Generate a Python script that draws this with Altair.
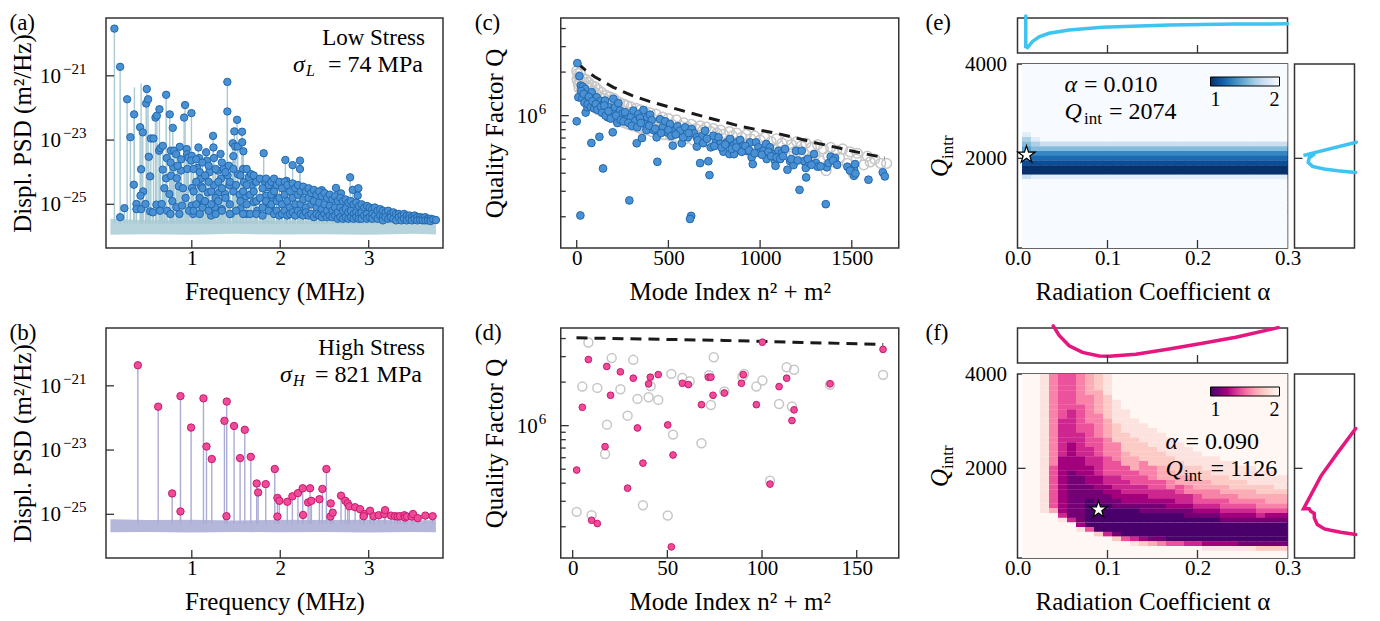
import math
import altair as alt
import pandas as pd

FONT = "Liberation Serif"
SPINE = "#333333"
TICK = 8
MINOR = 5

# ---------------- (a) low stress spectrum: (frequency MHz, log10 PSD m^2/Hz) ----------------
a_peaks = [
    (0.125, -19.53), (0.19, -20.72), (0.269, -21.73), (0.19, -25.40), (0.238, -25.12),
    (0.306, -22.91), (0.348, -22.2), (0.345, -24.39), (0.374, -24.99), (0.374, -25.15),
    (0.416, -22.6), (0.427, -23.91), (0.446, -22.76), (0.45, -24.6), (0.42, -24.73),
    (0.427, -25.15), (0.476, -24.99), (0.491, -21.41), (0.484, -21.86), (0.506, -21.73),
    (0.514, -23.52), (0.529, -24.13), (0.529, -25.22), (0.537, -22.95), (0.566, -22.95),
    (0.589, -22.3), (0.605, -22.24), (0.634, -22.04), (0.6, -25.01), (0.63, -23.33),
    (0.645, -23.25), (0.672, -23.18), (0.672, -23.92), (0.66, -24.99), (0.71, -21.59),
    (0.717, -23.56), (0.71, -24.19), (0.72, -25.2), (0.751, -22.2), (0.747, -24.68),
    (0.763, -23.33), (0.766, -24.11), (0.758, -25.3), (0.785, -22.62), (0.792, -23.85),
    (0.80, -23.33), (0.826, -25.09), (0.83, -24.19), (0.853, -24.44), (0.864, -23.21),
    (0.823, -23.44), (0.879, -23.95), (0.89, -25.04), (0.913, -22.3), (0.924, -21.91),
    (0.943, -23.28), (0.947, -23.44), (0.962, -23.54), (0.996, -22.16), (1.0, -23.49),
    (0.993, -23.64), (1.003, -24.49), (1.0, -25.04), (1.015, -25.3), (1.06, -23.87),
    (1.075, -23.23), (1.083, -23.56), (1.105, -24.44), (1.105, -24.19), (1.124, -25.09),
    (1.135, -24.93), (1.162, -23.38), (1.17, -23.64), (1.18, -24.63), (1.2, -24.0),
    (1.218, -25.35), (1.24, -22.87), (1.245, -23.23), (1.25, -23.56), (1.25, -24.4),
    (1.26, -25.09), (1.294, -23.95), (1.31, -24.63), (1.325, -23.43), (1.33, -24.2),
    (1.34, -25.15), (1.36, -23.9), (1.375, -24.68), (1.402, -21.19), (1.402, -22.11),
    (1.405, -24.1), (1.42, -23.8), (1.425, -24.4), (1.44, -25.3), (1.463, -23.1),
    (1.47, -23.5), (1.481, -22.73), (1.49, -23.2), (1.512, -22.37), (1.52, -23.2),
    (1.52, -24.06), (1.54, -24.7), (1.55, -25.15), (1.568, -22.74), (1.57, -23.07),
    (1.583, -23.35), (1.58, -23.9), (1.59, -24.31), (1.61, -24.75), (1.62, -25.3),
    (1.645, -24.15), (1.67, -24.06), (1.68, -24.4), (1.7, -24.93), (1.72, -24.3),
    (1.74, -25.2), (1.813, -23.41), (1.82, -24.27), (1.84, -24.73), (1.86, -24.46),
    (1.88, -25.09), (1.92, -24.41), (1.92, -24.82), (2.058, -23.62), (2.07, -24.27),
    (2.14, -23.78), (2.223, -23.64), (2.223, -23.9), (2.246, -24.47), (2.47, -24.56),
    (2.63, -24.49), (2.687, -24.66), (2.79, -24.16), (2.82, -24.55), (2.883, -24.5),
    (2.876, -24.73), (0.56, -25.25), (0.64, -25.2), (0.69, -24.5), (0.78, -24.9),
    (0.86, -25.3), (0.93, -24.8), (0.97, -25.2), (0.9, -24.5), (0.95, -23.9),
    (0.88, -23.6), (0.84, -23.8), (0.76, -23.7),
]
# dense cloud of higher-order peaks: frequency -> levels of the peaks seen there
a_cloud = {
    1.02: [-23.9, -24.6, -25.2], 1.05: [-23.6, -24.3, -25.0], 1.09: [-24.0, -24.8, -25.3],
    1.12: [-23.7, -24.5, -25.1], 1.15: [-24.1, -24.9], 1.19: [-23.8, -24.3, -25.2],
    1.22: [-24.6, -25.0], 1.27: [-23.9, -24.8, -25.3], 1.30: [-24.3, -24.9],
    1.34: [-23.7, -24.5, -25.2], 1.38: [-24.0, -24.8], 1.43: [-24.3, -25.0, -25.3],
    1.47: [-23.9, -24.6], 1.50: [-24.4, -25.2], 1.55: [-24.1, -24.9], 1.58: [-24.6, -25.3],
    1.62: [-23.9, -24.4, -25.0], 1.66: [-24.7, -25.3], 1.70: [-24.1, -24.6],
    1.73: [-24.3, -24.9, -25.3], 1.77: [-24.2, -24.8], 1.80: [-24.5, -25.1, -25.35],
    1.84: [-24.2, -24.9], 1.87: [-24.4, -25.2], 1.90: [-24.3, -24.7, -25.0],
    1.93: [-24.2, -24.6, -25.3], 1.96: [-24.4, -24.9, -25.2], 1.99: [-24.3, -24.8, -25.35],
    2.02: [-24.5, -25.0, -25.3], 2.05: [-24.3, -24.7, -25.2], 2.08: [-24.4, -24.9, -25.35],
    2.11: [-24.6, -25.1, -25.3], 2.14: [-24.35, -24.8, -25.25], 2.17: [-24.5, -25.0, -25.35],
    2.20: [-24.4, -24.7, -25.2], 2.23: [-24.6, -25.0, -25.3], 2.26: [-24.45, -24.85, -25.35],
    2.29: [-24.6, -25.1, -25.25], 2.32: [-24.5, -24.8, -25.35], 2.35: [-24.65, -25.0, -25.3],
    2.38: [-24.55, -24.9, -25.4], 2.41: [-24.7, -25.1, -25.3], 2.44: [-24.6, -24.95, -25.35],
    2.47: [-24.75, -25.15, -25.4], 2.50: [-24.65, -25.0, -25.3], 2.53: [-24.8, -25.2, -25.4],
    2.56: [-24.7, -25.05, -25.35], 2.59: [-24.85, -25.2, -25.4], 2.62: [-24.75, -25.1, -25.35],
    2.65: [-24.9, -25.25, -25.45], 2.68: [-24.8, -25.1, -25.4], 2.71: [-24.9, -25.2, -25.45],
    2.74: [-24.85, -25.15, -25.4], 2.77: [-24.95, -25.25, -25.45], 2.80: [-24.9, -25.2, -25.4],
    2.83: [-25.0, -25.3, -25.45], 2.86: [-24.95, -25.25, -25.4], 2.89: [-25.05, -25.3, -25.45],
    2.92: [-25.0, -25.25, -25.45], 2.95: [-25.1, -25.35], 2.98: [-25.05, -25.3, -25.45],
    3.01: [-25.1, -25.4], 3.04: [-25.15, -25.3, -25.45], 3.07: [-25.1, -25.35],
    3.10: [-25.2, -25.45], 3.13: [-25.15, -25.35], 3.16: [-25.2, -25.4, -25.5],
    3.19: [-25.25, -25.4], 3.22: [-25.2, -25.45], 3.25: [-25.3, -25.4], 3.28: [-25.25, -25.45],
    3.31: [-25.3, -25.5], 3.34: [-25.3, -25.4], 3.37: [-25.35, -25.5], 3.40: [-25.3, -25.45],
    3.43: [-25.35, -25.5], 3.46: [-25.35, -25.45], 3.49: [-25.4, -25.5], 3.52: [-25.35, -25.45],
    3.55: [-25.4, -25.5], 3.58: [-25.4, -25.48], 3.61: [-25.42, -25.5], 3.64: [-25.4, -25.5],
    3.67: [-25.45, -25.5], 3.70: [-25.45, -25.52], 3.73: [-25.47], 3.76: [-25.49],
}
a_bare_stems = [(0.351, -21.36), (0.427, -21.24)]
a_noise_f = [0.08, 0.5, 1.0, 1.5, 2.0, 2.5, 3.0, 3.5, 3.76]
a_noise_lo = [-25.95, -25.93, -25.95, -25.92, -25.94, -25.93, -25.95, -25.92, -25.94]
a_noise_hi = [-25.45, -25.5, -25.5, -25.52, -25.5, -25.52, -25.5, -25.53, -25.52]
psd_ticks = [-21, -23, -25]
psd_tick_exps = ["−21", "−23", "−25"]

# ---------------- (b) high stress spectrum ----------------
b_peaks = [
    (0.39, -20.36), (0.62, -21.65), (0.778, -24.35), (0.872, -21.32), (0.872, -24.91),
    (0.992, -22.3), (1.132, -21.39), (1.166, -22.89), (1.226, -23.28), (1.369, -22.09),
    (1.395, -21.49), (1.392, -25.06), (1.478, -22.25), (1.546, -23.25), (1.599, -22.37),
    (1.667, -23.21), (1.734, -24.04), (1.75, -24.32), (1.836, -24.06), (1.938, -23.59),
    (1.968, -24.49), (1.99, -24.58), (1.968, -25.07), (2.08, -24.61), (2.137, -24.44),
    (2.2, -24.34), (2.254, -24.19), (2.258, -25.02), (2.315, -24.63), (2.337, -24.19),
    (2.352, -24.58), (2.443, -24.53), (2.476, -24.21), (2.522, -23.59), (2.571, -24.66),
    (2.567, -25.07), (2.593, -24.95), (2.687, -24.42), (2.736, -24.58), (2.763, -24.66),
    (2.78, -24.75), (2.846, -24.78), (2.902, -24.84), (2.951, -24.99), (2.944, -25.06),
    (3.015, -24.89), (3.056, -25.06), (3.113, -25.03), (3.177, -24.99), (3.185, -24.87),
    (3.252, -25.04), (3.298, -25.06), (3.328, -25.07), (3.354, -25.06), (3.403, -25.03),
    (3.41, -25.1), (3.433, -25.07), (3.486, -25.07), (3.501, -24.99), (3.554, -25.12),
    (3.64, -25.04), (3.723, -25.06),
]
b_noise_f = [0.08, 0.5, 1.0, 1.5, 2.0, 2.5, 3.0, 3.5, 3.76]
b_noise_lo = [-25.56, -25.55, -25.57, -25.55, -25.56, -25.55, -25.57, -25.55, -25.56]
b_noise_hi = [-25.15, -25.18, -25.17, -25.19, -25.17, -25.18, -25.17, -25.19, -25.18]

# ---------------- (c) low stress quality factors: (n^2+m^2, log10 Q) ----------------
c_measured = [
    (3.6, 6.363), (14.5, 6.273), (21.8, 6.208), (32.7, 6.2), (45.5, 6.185), (9, 6.127),
    (0, 5.961), (20, 5.31), (54.5, 6.116), (63.6, 6.139), (72.7, 6.093), (49, 6.021),
    (58, 6.058), (81.8, 6.162), (91, 6.116), (100, 6.093), (109, 6.127), (120, 6.069),
    (129, 6.1), (80, 5.811), (123.6, 5.854), (143.6, 5.635), (145, 6.081), (154.5, 6.104),
    (163.6, 6.046), (169, 5.989), (178, 6.058), (191, 6.035), (200, 6.116), (196.4, 5.885),
    (209, 6.058), (222, 5.949), (227, 6.086), (236, 6.035), (247, 6.012), (263.6, 6.024),
    (274.5, 5.977), (287, 5.414), (294.5, 5.989), (309, 6.035), (320, 5.965), (327, 5.809),
    (336, 6.012), (345.5, 5.984), (356, 5.845), (364, 6.039), (373, 5.942), (385, 5.989),
    (400, 6.007), (409, 5.97), (418, 5.9), (436, 5.85), (440, 5.681), (454.5, 5.975),
    (469, 5.919), (482, 5.961), (491, 5.885), (509, 5.942), (524, 5.793), (536, 5.896),
    (549, 5.927), (564, 5.896), (573, 5.809), (591, 5.919), (605, 5.85), (624, 5.307),
    (618, 5.286), (627, 5.908), (640, 5.878), (655, 5.786), (655, 5.85), (673, 5.672),
    (686, 5.861), (700, 5.896), (718, 5.685), (724, 5.589), (731, 5.781), (745, 5.861),
    (760, 5.815), (773, 5.85), (782, 5.804), (800, 5.751), (818, 5.815), (833, 5.734),
    (836, 5.839), (854, 5.792), (873, 5.815), (891, 5.832), (858, 5.734), (909, 5.792),
    (927, 5.757), (945, 5.815), (954, 5.712), (960, 5.665), (978, 5.815), (991, 5.781),
    (1000, 5.746), (1018, 5.757), (1033, 5.804), (1036, 5.7), (1054, 5.781), (1069, 5.734),
    (1082, 5.685), (1084, 5.653), (1100, 5.757), (1118, 5.739), (1136, 5.769), (1149, 5.626),
    (1164, 5.685), (1182, 5.658), (1196, 5.757), (1215, 5.487), (1227, 5.757), (1240, 5.685),
    (1249, 5.638), (1251, 5.573), (1269, 5.672), (1294, 5.734), (1305, 5.672), (1314, 5.647),
    (1358, 5.388), (1364, 5.643), (1373, 5.672), (1385, 5.716), (1409, 5.707), (1476, 5.647),
    (1512, 5.631), (1518, 5.665), (1512, 5.584), (1591, 5.557), (1669, 5.608),
    (25, 6.17), (30, 6.12), (38, 6.15), (42, 6.09), (60, 6.08), (66, 6.13), (77, 6.06),
    (86, 6.1), (95, 6.05), (104, 6.08), (113, 6.04), (132, 6.06), (138, 6.02), (150, 6.07),
    (158, 6.0), (173, 6.03), (185, 5.98), (215, 6.0), (240, 5.97), (255, 5.96), (282, 5.95),
    (300, 5.93), (330, 5.92), (350, 5.95), (380, 5.9), (395, 5.93), (428, 5.91), (460, 5.88),
    (500, 5.9), (515, 5.86), (540, 5.87), (580, 5.85), (610, 5.88), (660, 5.83), (690, 5.81),
    (710, 5.84), (750, 5.79), (790, 5.78), (810, 5.8), (845, 5.77), (870, 5.78), (900, 5.75),
    (920, 5.79), (940, 5.76), (970, 5.74), (1010, 5.73), (1045, 5.75), (1060, 5.72),
    (1090, 5.71), (1110, 5.7), (1125, 5.72), (1170, 5.7), (1205, 5.69), (1260, 5.7),
    (1280, 5.66), (1330, 5.65), (1398, 5.69), (1420, 5.66), (1490, 5.62), (1520, 5.6),
    (1680, 5.58),
]
c_model = [
    (0, 6.31), (2, 6.25), (5, 6.29), (8, 6.22), (10, 6.27), (13, 6.19), (17, 6.24), (20, 6.30),
    (25, 6.17), (29, 6.21), (32, 6.26), (37, 6.15), (40, 6.23), (45, 6.18), (50, 6.25),
    (52, 6.12), (58, 6.2), (61, 6.16), (65, 6.23), (68, 6.1), (72, 6.19), (74, 6.14), (80, 6.21),
    (85, 6.08), (90, 6.17), (97, 6.12), (100, 6.2), (104, 6.06), (109, 6.15), (113, 6.1),
    (116, 6.18), (117, 6.04), (125, 6.13), (130, 6.08), (136, 6.16), (145, 6.03), (148, 6.12),
    (153, 6.07), (160, 6.14), (164, 6.02), (170, 6.1), (178, 6.05), (180, 6.13), (185, 6.0),
    (194, 6.09), (196, 6.04), (200, 6.12), (205, 5.99), (208, 6.07), (212, 6.02), (218, 6.1),
    (221, 5.97), (225, 6.06), (232, 6.01), (234, 6.09), (241, 5.96), (245, 6.04), (250, 6.0),
    (256, 6.08), (260, 5.95), (265, 6.03), (269, 5.98), (274, 6.07), (281, 5.94), (289, 6.02),
    (290, 5.97), (296, 6.06), (305, 5.93), (313, 6.01), (320, 5.96), (325, 6.05), (333, 5.92),
    (338, 6.0), (340, 5.95), (346, 6.04), (353, 5.91), (360, 5.99), (365, 5.94), (369, 6.03),
    (377, 5.9), (386, 5.98), (392, 5.93), (400, 6.02), (410, 5.89), (421, 5.97), (425, 5.92),
    (433, 6.01), (442, 5.88), (450, 5.96), (458, 5.91), (468, 5.99), (477, 5.87), (485, 5.95),
    (490, 5.9), (500, 5.98), (512, 5.86), (520, 5.94), (530, 5.89), (544, 5.97), (557, 5.85),
    (565, 5.93), (578, 5.88), (585, 5.95), (592, 5.84), (601, 5.92), (612, 5.87), (625, 5.94),
    (637, 5.83), (650, 5.91), (661, 5.86), (673, 5.93), (680, 5.82), (689, 5.9), (697, 5.85),
    (706, 5.92), (720, 5.81), (729, 5.89), (740, 5.84), (745, 5.91), (754, 5.8), (765, 5.88),
    (772, 5.83), (785, 5.9), (793, 5.79), (800, 5.87), (818, 5.82), (833, 5.89), (845, 5.78),
    (850, 5.86), (865, 5.81), (872, 5.88), (884, 5.77), (900, 5.85), (914, 5.8), (925, 5.87),
    (936, 5.76), (949, 5.84), (962, 5.79), (970, 5.86), (985, 5.75), (1000, 5.83), (1010, 5.78),
    (1025, 5.85), (1040, 5.74), (1060, 5.82), (1070, 5.77), (1090, 5.84), (1105, 5.73),
    (1120, 5.81), (1130, 5.76), (1145, 5.83), (1157, 5.72), (1170, 5.8), (1184, 5.75),
    (1200, 5.82), (1217, 5.71), (1225, 5.79), (1237, 5.74), (1250, 5.81), (1261, 5.7),
    (1280, 5.78), (1300, 5.73), (1313, 5.8), (1325, 5.69), (1345, 5.77), (1360, 5.62),
    (1370, 5.72), (1385, 5.78), (1400, 5.68), (1418, 5.76), (1433, 5.71), (1450, 5.77),
    (1476, 5.67), (1490, 5.75), (1508, 5.6), (1525, 5.7), (1530, 5.74), (1565, 5.66),
    (1585, 5.72), (1600, 5.68), (1625, 5.7), (1657, 5.67), (1690, 5.67),
]
c_limit_n = [4, 50, 100, 200, 300, 400, 500, 700, 900, 1100, 1300, 1500, 1680]
c_limit_q = [6.363, 6.312, 6.267, 6.196, 6.14, 6.097, 6.061, 5.991, 5.924, 5.875, 5.813, 5.756, 5.708]
q_ticks = [6]
q_tick_exps = ["6"]

# ---------------- (d) high stress quality factors ----------------
d_measured = [
    (2.1, 5.693), (5.1, 6.127), (8.3, 6.457), (10, 5.346), (13, 5.323), (17.1, 5.855),
    (18, 6.409), (20, 6.21), (25.2, 6.372), (29, 5.568), (32, 6.328), (34.2, 5.984),
    (37.1, 5.741), (40.1, 6.289), (41, 6.335), (45.2, 6.353), (50.2, 6.005), (52.1, 5.162),
    (53, 5.797), (57.9, 6.293), (61.1, 6.284), (68, 6.145), (71.7, 6.335), (73, 6.335),
    (74.1, 6.21), (80.1, 6.226), (89.1, 6.293), (90.1, 6.353), (97, 6.145), (100.2, 6.577),
    (104.2, 5.596), (109, 6.27), (113, 6.328), (115.8, 6.035), (116.9, 6.109), (135.9, 6.289),
    (163.9, 6.527),
]
d_model = [
    (8.3, 6.575), (2.1, 5.404), (5.1, 6.27), (10, 5.381), (13, 6.261), (17.1, 5.804),
    (18.1, 6.007), (20.6, 6.467), (25.2, 6.252), (29, 6.069), (32, 6.455), (34.2, 6.185),
    (37.1, 5.45), (40.1, 6.196), (41.2, 6.273), (45.2, 6.178), (50.2, 5.379), (52.1, 6.358),
    (53, 5.938), (57.9, 6.33), (61.8, 6.307), (68, 5.878), (72, 6.349), (73, 6.143),
    (74.5, 6.473), (80.1, 6.236), (89.6, 6.339), (90.5, 6.358), (97, 6.27), (100.2, 6.312),
    (104.2, 5.619), (109, 6.15), (113, 6.404), (116.9, 6.386), (115.8, 6.132), (135.9, 6.282),
    (163.9, 6.351),
]
d_limit_n = [2, 80, 164]
d_limit_q = [6.607, 6.589, 6.561]

# ---------------- (e)/(f) goodness-of-fit maps ----------------
# columns of alpha; each string lists Q_intr rows from 4000 (left) down to 100 (right),
# digit 0 = darkest (value 1) ... 9 = lightest (value 2)
alpha_grid = [0.01, 0.02, 0.03, 0.04, 0.05, 0.06, 0.07, 0.08, 0.09, 0.10,
              0.11, 0.12, 0.13, 0.14, 0.15, 0.16, 0.17, 0.18, 0.19, 0.20,
              0.21, 0.22, 0.23, 0.24, 0.25, 0.26, 0.27, 0.28, 0.29, 0.30]
E_COL1 = "9999999999 9999986543 2100799999 9999999999"
E_COL2 = "9999999999 9999998653 2100899999 9999999999"
E_BAND = "9999999999 9999999753 2100899999 9999999999"
e_cols = [E_COL1, E_COL2] + [E_BAND] * 28
f_cols = [
    "9999999999 9999999999 9999999999 9999999999",
    "9999999999 9999999999 9999999999 9999999999",
    "8888888888 8888888888 8888888888 9999999999",
    "5555555555 5555555555 4444444446 9999999999",
    "4444444444 3333333322 2222222222 3899999999",
    "4444444433 3333322222 2111111111 1399999999",
    "5555555444 4443333322 2211111111 1128999999",
    "6666655555 5444443333 2222111000 0004999999",
    "7777666665 5555444433 3322211100 0000799999",
    "8888877777 6666555544 4433221100 0000399999",
    "9999998888 8777755554 4433322110 0000179999",
    "9999999988 8887777666 4443332210 0000049999",
    "9999999999 8888777766 6444332210 0000038999",
    "9999999999 9888877775 5544332211 0000027999",
    "9999999999 9988887777 5554433211 0000016999",
    "9999999999 9998888777 6664433211 0000015999",
    "9999999999 9999888877 7665533221 0000004999",
    "9999999999 9999988887 7766443321 0000004999",
    "9999999999 9999998888 7766553321 1000003999",
    "9999999999 9999999888 7776654432 1000003999",
    "9999999999 9999999988 8776655432 1000002899",
    "9999999999 9999999988 8877655432 1000002899",
    "9999999999 9999999998 8877665443 2100002899",
    "9999999999 9999999998 8887765543 2100002899",
    "9999999999 9999999999 8887766543 2100001899",
    "9999999999 9999999999 8888766543 2100001899",
    "9999999999 9999999999 9888776554 3100001799",
    "9999999999 9999999999 9888776654 2100001799",
    "9999999999 9999999999 9988876654 2100001799",
    "9999999999 9999999999 9988876654 2100001799",
]
e_best = (0.010, 2074)
f_best = (0.090, 1126)
# marginal profiles (normalised units)
e_top_alpha = [0.0092, 0.0092, 0.0111, 0.0167, 0.024, 0.035, 0.0574, 0.0944, 0.1685, 0.242, 0.30]
e_top_val = [1.06, 0.18, 0.157, 0.33, 0.465, 0.564, 0.66, 0.738, 0.797, 0.826, 0.834]
e_side_val = [1.03, 0.15, 0.34, 0.245, 0.228, 0.30, 0.495, 0.717, 1.02]
e_side_q = [2341, 2064, 2095, 2009, 1915, 1830, 1774, 1738, 1702]
f_top_alpha = [0.0397, 0.0463, 0.0574, 0.0722, 0.0907, 0.1019, 0.1315, 0.1685, 0.2056, 0.2426, 0.2897]
f_top_val = [1.06, 0.785, 0.494, 0.302, 0.203, 0.195, 0.253, 0.398, 0.564, 0.738, 1.01]
f_side_val = [1.02, 0.72, 0.44, 0.15, 0.245, 0.27, 0.33, 0.33, 0.38, 0.5, 0.6, 0.77, 1.02]
f_side_q = [2845, 2334, 1836, 1142, 1142, 1091, 1042, 951, 808, 717, 687, 644, 596]

BLUES = ["#08306b", "#08519c", "#2171b5", "#4292c6", "#6baed6", "#9ecae1", "#c6dbef", "#deebf7", "#f7fbff"]
RDPU = ["#49006a", "#7a0177", "#ae017e", "#dd3497", "#f768a1", "#fa9fb5", "#fcc5c0", "#fde0dd", "#fff7f3"]
STOPS = [1.0, 1.125, 1.25, 1.375, 1.5, 1.625, 1.75, 1.875, 2.0]
STAR = "M0,-1L0.2245,-0.309L0.951,-0.309L0.363,0.118L0.588,0.809L0,0.382L-0.588,0.809L-0.363,0.118L-0.951,-0.309L-0.2245,-0.309Z"


# ---------------- helpers ----------------
def AX(**kw):
    style = dict(grid=False, ticks=False, domain=False, labelFont=FONT, titleFont=FONT,
                 labelFontSize=21, titleFontSize=25, titleFontWeight="normal",
                 labelColor="black", titleColor="black", labelFlush=False, labelOverlap=False)
    style.update(kw)
    return alt.Axis(**style)


def pos(ch, field, scale, hide):
    enc = alt.X if ch == "x" else alt.Y
    if hide:
        return enc(field, scale=scale, axis=None)
    return enc(field, scale=scale)


def txt(s, x, y, size=23, align="left", baseline="alphabetic", italic=False, angle=0):
    kw = dict(text=s, font=FONT, fontSize=size, align=align, baseline=baseline, color="black")
    if italic:
        kw["fontStyle"] = "italic"
    if angle:
        kw["angle"] = angle
    return alt.Chart(pd.DataFrame({"k": [0]})).mark_text(**kw).encode(x=alt.value(x), y=alt.value(y))


def power_labels(values, exps, scale, base_x, exp_x):
    # "10" with a raised exponent at each tick value, placed through the y scale
    df = pd.DataFrame({"t": values, "e": exps})
    base = alt.Chart(df).mark_text(text="10", font=FONT, fontSize=21, align="left", baseline="middle",
                                   color="black", dy=1).encode(y=pos("y", "t:Q", scale, False), x=alt.value(base_x))
    ex = alt.Chart(df).mark_text(font=FONT, fontSize=15, align="left", baseline="middle",
                                 color="black", dy=-7).encode(y=pos("y", "t:Q", scale, False),
                                                              x=alt.value(exp_x), text="e:N")
    return [base, ex]


def anchor(x, y_top):
    # invisible guide that fixes where the panel group begins (for the concat layout)
    return alt.Chart(pd.DataFrame({"k": [0]})).mark_rule(strokeOpacity=0, strokeWidth=1).encode(
        x=alt.value(x), y=alt.value(y_top), y2=alt.value(0))


def ticks_bottom(values, scale, h, length=TICK, hide=False):
    return alt.Chart(pd.DataFrame({"t": values})).mark_rule(color=SPINE, strokeWidth=1.3).encode(
        x=pos("x", "t:Q", scale, hide), y=alt.value(h), y2=alt.value(h - length))


def ticks_left(values, scale, length=TICK, hide=False):
    return alt.Chart(pd.DataFrame({"t": values})).mark_rule(color=SPINE, strokeWidth=1.3).encode(
        y=pos("y", "t:Q", scale, hide), x=alt.value(0), x2=alt.value(length))


def spacer(w, h):
    return alt.Chart(pd.DataFrame({"k": [0]})).mark_point(opacity=0).encode(
        x=alt.value(0), y=alt.value(0)).properties(width=w, height=h, view=alt.ViewBackground(strokeOpacity=0))


W, H = 337, 230
TOP = -6  # panel letters start this far above the plot frame
XLAB_PAD, XTITLE_PAD = -1, 11


def psd_panel(peaks, bare, nf, nlo, nhi, floor, band_col, stem_col, fill, edge,
              stress, sym, sub, rest, sym_x, sub_x, rest_x, tag):
    df = pd.DataFrame(peaks, columns=["f", "p"])
    xs = alt.Scale(domain=[0.03, 3.84], nice=False, zero=False)
    ys = alt.Scale(domain=[-26.36, -19.2], nice=False, zero=False)
    x_axis = AX(values=[1, 2, 3], format="d", title="Frequency (MHz)",
                labelPadding=XLAB_PAD, titlePadding=XTITLE_PAD)
    y_axis = AX(values=psd_ticks, labels=False, title="Displ. PSD (m²/Hz)", titlePadding=71)
    band = alt.Chart(pd.DataFrame({"f": nf, "lo": nlo, "hi": nhi})).mark_area(color=band_col, opacity=1).encode(
        x=alt.X("f:Q", scale=xs, axis=x_axis), y=alt.Y("lo:Q", scale=ys, axis=y_axis), y2="hi:Q")
    layers = [band]
    if bare:
        layers.append(alt.Chart(pd.DataFrame(bare, columns=["f", "p"])).mark_rule(color=stem_col, strokeWidth=1.4).encode(
            x=pos("x", "f:Q", xs, False), y=pos("y", "p:Q", ys, False), y2=alt.datum(floor)))
    stems = alt.Chart(df).mark_rule(color=stem_col, strokeWidth=1.4).encode(
        x=pos("x", "f:Q", xs, False), y=pos("y", "p:Q", ys, False), y2=alt.datum(floor))
    pts = alt.Chart(df).mark_point(filled=True, fill=fill, stroke=edge, strokeWidth=1, size=55, opacity=1).encode(
        x=pos("x", "f:Q", xs, False), y=pos("y", "p:Q", ys, False))
    layers += [stems, pts,
               ticks_bottom([1, 2, 3], xs, H), ticks_left(psd_ticks, ys)]
    layers += power_labels(psd_ticks, psd_tick_exps, ys, -66, -43)
    layers += [txt(stress, 319, 27, size=23, align="right"),
               txt(sym, sym_x, 53.5, size=24, italic=True),
               txt(sub, sub_x, 58, size=16, italic=True),
               txt(rest, rest_x, 53.5, size=24),
               txt(tag, -96.5, TOP, size=23, baseline="top"),
               anchor(-96.5, TOP)]
    return alt.layer(*layers).properties(width=W, height=H)


def q_panel(model, limit_n, limit_q, measured, dom, xticks, fill, edge, msize, gsize, tag):
    xs = alt.Scale(domain=dom, nice=False, zero=False)
    ys = alt.Scale(domain=[5.085, 6.675], nice=False, zero=False)
    x_axis = AX(values=xticks, format="d", title="Mode Index n² + m²",
                labelPadding=XLAB_PAD, titlePadding=XTITLE_PAD)
    y_axis = AX(values=q_ticks, labels=False, title="Quality Factor Q", titlePadding=53)
    gray = alt.Chart(pd.DataFrame(model, columns=["n", "q"])).mark_point(
        filled=False, stroke="#c6c6c6", strokeWidth=1.5, size=gsize, opacity=1).encode(
        x=alt.X("n:Q", scale=xs, axis=x_axis), y=alt.Y("q:Q", scale=ys, axis=y_axis))
    line = alt.Chart(pd.DataFrame({"n": limit_n, "q": limit_q})).mark_line(
        color="#1a1a1a", strokeWidth=3, strokeDash=[11, 7]).encode(
        x=pos("x", "n:Q", xs, False), y=pos("y", "q:Q", ys, False))
    pts = alt.Chart(pd.DataFrame(measured, columns=["n", "q"])).mark_point(
        filled=True, fill=fill, stroke=edge, strokeWidth=1, size=msize, opacity=1).encode(
        x=pos("x", "n:Q", xs, False), y=pos("y", "q:Q", ys, False))
    minor = [math.log10(k * 1e5) for k in range(2, 10)] + [math.log10(k * 1e6) for k in range(2, 5)]
    layers = [gray, line, pts,
              ticks_bottom(xticks, xs, H), ticks_left(q_ticks, ys), ticks_left(minor, ys, MINOR)]
    layers += power_labels(q_ticks, q_tick_exps, ys, -44, -22)
    layers += [txt(tag, -86, TOP, size=23, baseline="top"), anchor(-110, TOP)]
    return alt.layer(*layers).properties(width=338, height=H)


def cells(cols):
    recs = []
    for a, col in zip(alpha_grid, cols):
        s = col.replace(" ", "")
        for i, ch in enumerate(s):
            q = 4000 - 100 * i
            recs.append({"a0": a - 0.005, "a1": a + 0.0055, "q0": q - 50, "q1": q + 55, "v": 1 + int(ch) / 9})
    return pd.DataFrame(recs)


HX = alt.Scale(domain=[0, 0.3], nice=False, zero=False)
HY = alt.Scale(domain=[100, 4000], nice=False, zero=False)
HW, HH = 270, 184


def heat_panel(cols, colors, best, ann_x, ann_y, val_text, q_text, eq1_dx, sub_dx, eq2_dx):
    rect = alt.Chart(cells(cols)).mark_rect(clip=True, strokeWidth=0).encode(
        x=alt.X("a0:Q", scale=HX, axis=AX(values=[0, 0.1, 0.2, 0.3], format=".1f",
                                          title="Radiation Coefficient α",
                                          labelPadding=XLAB_PAD, titlePadding=XTITLE_PAD)),
        x2="a1:Q",
        y=alt.Y("q0:Q", scale=HY, axis=AX(values=[2000, 4000], format="d", title="", labelPadding=11)),
        y2="q1:Q",
        color=alt.Color("v:Q", scale=alt.Scale(domain=STOPS, range=colors),
                        legend=alt.Legend(orient="none", legendX=193, legendY=13, direction="horizontal",
                                          gradientLength=69, gradientThickness=9, title=None, values=[1, 2],
                                          format="d", labelFontSize=20, labelFont=FONT, labelColor="black",
                                          gradientStrokeColor="black", gradientStrokeWidth=1,
                                          labelAlign="center", labelOffset=4)))
    star = alt.Chart(pd.DataFrame({"a": [best[0]], "q": [best[1]]})).mark_point(
        shape=STAR, filled=True, fill="white", stroke="black", strokeWidth=1.2, size=330, opacity=1).encode(
        x=pos("x", "a:Q", HX, False), y=pos("y", "q:Q", HY, False))
    return alt.layer(
        rect, ticks_bottom([0.1, 0.2], HX, HH), ticks_left([2000], HY), star,
        txt("α", ann_x, ann_y, size=24, italic=True),
        txt(val_text, ann_x + eq1_dx, ann_y, size=24),
        txt("Q", ann_x, ann_y + 26.5, size=24, italic=True),
        txt("int", ann_x + sub_dx, ann_y + 31.5, size=17),
        txt(q_text, ann_x + eq2_dx, ann_y + 26.5, size=24),
        txt("Q", -70, 113, size=25, italic=True, angle=270),
        txt("intr", -64.5, 95, size=17, angle=270),
    ).properties(width=HW, height=HH)


def top_margin(alphas, vals, color, tag):
    line = alt.Chart(pd.DataFrame({"a": alphas, "v": vals, "i": list(range(len(alphas)))})).mark_line(
        color=color, strokeWidth=3.5, strokeCap="round").encode(
        x=alt.X("a:Q", scale=HX, axis=None),
        y=alt.Y("v:Q", scale=alt.Scale(domain=[0, 1], nice=False, zero=False), axis=None),
        order="i:Q")
    return alt.layer(line, ticks_bottom([0.1, 0.2], HX, 35, hide=True),
                     txt(tag, -92, TOP, size=23, baseline="top"),
                     anchor(-111, TOP)).properties(width=HW, height=35)


def side_margin(vals, qs, color):
    line = alt.Chart(pd.DataFrame({"v": vals, "q": qs, "i": list(range(len(qs)))})).mark_line(
        color=color, strokeWidth=3.5, strokeCap="round").encode(
        x=alt.X("v:Q", scale=alt.Scale(domain=[0, 1], nice=False, zero=False), axis=None),
        y=alt.Y("q:Q", scale=HY, axis=None),
        order="i:Q")
    return alt.layer(line, ticks_left([2000], HY, hide=True)).properties(width=60, height=HH)


panel_a = psd_panel(a_peaks + [(f, p) for f, lv in a_cloud.items() for p in lv], a_bare_stems,
                    a_noise_f, a_noise_lo, a_noise_hi, -25.6, "#b7d3db", "#aacbd4", "#4a91d3", "#2268b0",
                    "Low Stress", "σ", "L", "= 74 MPa", 187, 200, 222, "(a)")
panel_b = psd_panel(b_peaks, None, b_noise_f, b_noise_lo, b_noise_hi, -25.3, "#b5b7da", "#aaacd4",
                    "#ef4b98", "#c8196e", "High Stress", "σ", "H", "= 821 MPa", 174, 187, 209, "(b)")
panel_c = q_panel(c_model, c_limit_n, c_limit_q, c_measured, [-87, 1756], [0, 500, 1000, 1500],
                  "#4a91d3", "#2268b0", 60, 95, "(c)")
panel_d = q_panel(d_model, d_limit_n, d_limit_q, d_measured, [-6.3, 172.2], [0, 50, 100, 150],
                  "#ef4b98", "#c8196e", 45, 80, "(d)")

heat_e = heat_panel(e_cols, BLUES, e_best, 47, 28.3, "= 0.010", "= 2074", 19.5, 19.5, 44.5)
heat_f = heat_panel(f_cols, RDPU, f_best, 148, 75, "= 0.090", "= 1126", 20, 18.5, 45)
top_e = top_margin(e_top_alpha, e_top_val, "#3fc3f2", "(e)")
top_f = top_margin(f_top_alpha, f_top_val, "#e5177e", "(f)")
side_e = side_margin(e_side_val, e_side_q, "#3fc3f2")
side_f = side_margin(f_side_val, f_side_q, "#e5177e")


def ind(c):
    return c.resolve_scale(x="independent", y="independent", color="independent")


col1 = ind(alt.vconcat(panel_a, panel_b, spacing=80, bounds="flush"))
col2 = ind(alt.vconcat(panel_c, panel_d, spacing=80, bounds="flush"))
col3 = ind(alt.concat(top_e, spacer(60, 35), heat_e, side_e, spacer(HW, 58), spacer(60, 58),
                      top_f, spacer(60, 35), heat_f, side_f,
                      columns=2, spacing={"row": 11, "column": 7}, bounds="flush", align="each"))

chart = ind(alt.hconcat(col1, col2, col3, spacing=5.75)).properties(
    padding={"left": 0, "top": 0, "right": 4, "bottom": 0}
).configure(font=FONT, background="white").configure_view(stroke=SPINE, strokeWidth=1.5)

chart.save("out.html", embed_options={"renderer": "svg", "actions": False})
